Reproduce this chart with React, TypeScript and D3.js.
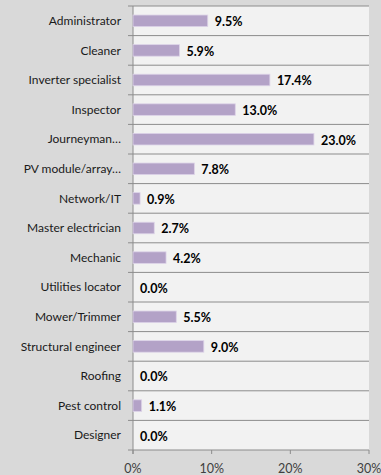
import React from "react";
import * as d3 from "d3";

const categories = [
  "Administrator",
  "Cleaner",
  "Inverter specialist",
  "Inspector",
  "Journeyman…",
  "PV module/array…",
  "Network/IT",
  "Master electrician",
  "Mechanic",
  "Utilities locator",
  "Mower/Trimmer",
  "Structural engineer",
  "Roofing",
  "Pest control",
  "Designer",
];
const values = [9.5, 5.9, 17.4, 13.0, 23.0, 7.8, 0.9, 2.7, 4.2, 0.0, 5.5, 9.0, 0.0, 1.1, 0.0];
const xTicks = [0, 10, 20, 30];

const W = 381;
const H = 475;
const M = { left: 133, right: 12, top: 6, bottom: 25 };
const FONT = "Lato, sans-serif";

export default function App() {
  const x = d3.scaleLinear().domain([0, 30]).range([M.left, W - M.right]);
  const y = d3
    .scaleBand<string>()
    .domain(categories)
    .range([M.top, H - M.bottom])
    .paddingInner(0.61)
    .paddingOuter(0.305);
  const step = y.step();
  const bandTop = (i: number) => M.top + i * step;
  const grid = d3.range(categories.length + 1).map((i) => M.top + i * step);
  const axisColor = "#8c8c8c";

  return (
    <div style={{ position: "absolute", left: 0, top: 0 }}>
      <svg width={W} height={H} style={{ display: "block" }}>
        <rect x={0} y={0} width={W} height={H} fill="#d9d9d9" />
        <rect
          x={x(0)}
          y={M.top}
          width={x(30) - x(0)}
          height={H - M.bottom - M.top}
          fill="#f2f2f2"
        />
        {grid.map((gy, i) => (
          <line key={i} x1={x(0) - 5} x2={x(30)} y1={gy} y2={gy} stroke={axisColor} strokeWidth={1} />
        ))}
        <line x1={x(0)} x2={x(0)} y1={M.top} y2={H - M.bottom + 4} stroke={axisColor} />
        {xTicks.map((t) => (
          <g key={t}>
            <line x1={x(t)} x2={x(t)} y1={H - M.bottom} y2={H - M.bottom + 4} stroke={axisColor} />
            <text
              x={x(t)}
              y={H - 2}
              textAnchor="middle"
              fontFamily={FONT}
              fontSize={12.5}
              fill="#404040"
            >
              {t}%
            </text>
          </g>
        ))}
        {categories.map((c, i) => (
          <g key={c}>
            <text
              x={x(0) - 12}
              y={bandTop(i) + step / 2}
              dy="0.35em"
              textAnchor="end"
              fontFamily={FONT}
              fontSize={12}
              fill="#1a1a1a"
            >
              {c}
            </text>
            <rect
              x={x(0)}
              y={y(c)!}
              width={Math.max(0, x(values[i]) - x(0))}
              height={y.bandwidth()}
              fill="#b3a2c7"
              stroke="#ddd3e8"
              strokeWidth={values[i] > 0 ? 0.8 : 0}
            />
            <text
              x={x(values[i]) + 7}
              y={bandTop(i) + step / 2 + 1}
              dy="0.35em"
              fontFamily={FONT}
              fontSize={12.5}
              fontWeight="bold"
              fill="#000"
            >
              {values[i].toFixed(1)}%
            </text>
          </g>
        ))}
      </svg>
    </div>
  );
}
